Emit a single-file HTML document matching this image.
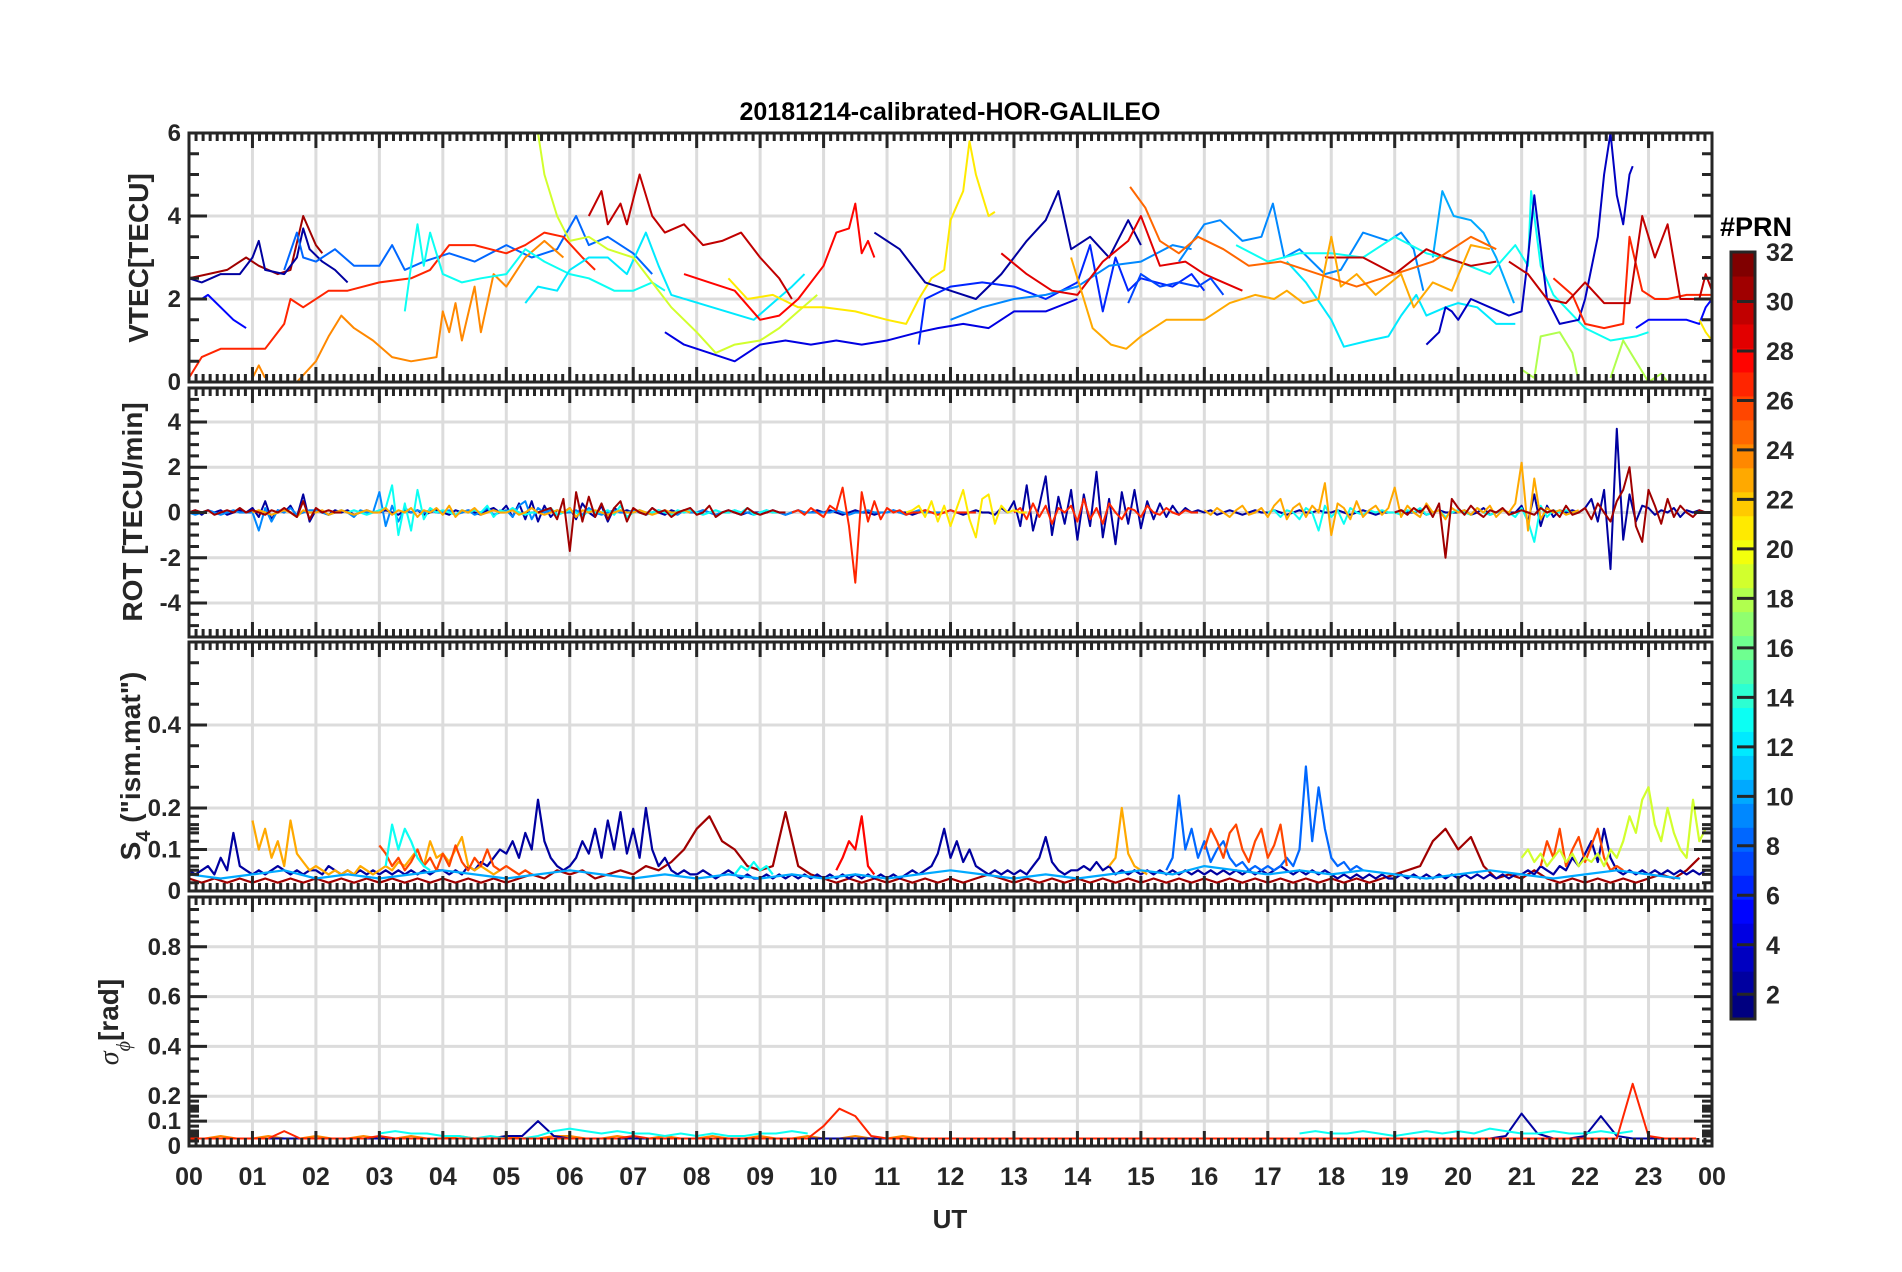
<!DOCTYPE html>
<html><head><meta charset="utf-8"><title>20181214-calibrated-HOR-GALILEO</title>
<style>
html,body{margin:0;padding:0;background:#fff;}
svg{display:block;font-family:"Liberation Sans",Arial,sans-serif;}
</style></head>
<body>
<svg id="chart" width="1902" height="1272" viewBox="0 0 1902 1272" xmlns="http://www.w3.org/2000/svg">
<rect width="1902" height="1272" fill="#fff"/>
<text x="950" y="120" text-anchor="middle" font-size="25" font-weight="bold" fill="#000">20181214-calibrated-HOR-GALILEO</text>
<text x="950" y="1228" text-anchor="middle" font-size="26" font-weight="bold" fill="#262626">UT</text>
<text transform="translate(148,258) rotate(-90)" text-anchor="middle" font-size="28" font-weight="bold" fill="#262626">VTEC[TECU]</text>
<text transform="translate(142,512) rotate(-90)" text-anchor="middle" font-size="28" font-weight="bold" fill="#262626">ROT [TECU/min]</text>
<text transform="translate(140,766) rotate(-90)" text-anchor="middle" font-size="28" font-weight="bold" fill="#262626">S<tspan font-size="20" dy="10">4</tspan><tspan dy="-10"> ("ism.mat")</tspan></text>
<text transform="translate(118,1022) rotate(-90)" text-anchor="middle" font-size="28" font-weight="bold" fill="#262626"><tspan font-style="italic" font-weight="normal" font-family="Liberation Serif, serif">σ</tspan><tspan font-size="20" dy="12" font-style="italic" font-weight="normal" font-family="Liberation Serif, serif">ϕ</tspan><tspan dy="-12">[rad]</tspan></text>
<text x="1720" y="236" font-size="27" font-weight="bold" fill="#000">#PRN</text>
<g id="layer"></g>
</svg>
<script>
// ---------- layout ----------
const L=189, R=1712;
const panels=[
 {top:133,bot:382,min:0,max:6},
 {top:388,bot:637,min:-5.5,max:5.5},
 {top:642,bot:891,min:0,max:0.6},
 {top:897,bot:1146,min:0,max:1}
];
const hourTicks=[0,1,2,3,4,5,6,7,8,9,10,11,12,13,14,15,16,17,18,19,20,21,22,23,24];
const hourLabels=["00","01","02","03","04","05","06","07","08","09","10","11","12","13","14","15","16","17","18","19","20","21","22","23","00"];
const vtecTicks=[0,2,4,6];
const rotTicks=[-4,-2,0,2,4];
const s4Ticks=[0,0.1,0.2,0.4];
const s4TickLabels=["0","0.1","0.2","0.4"];
const sigTicks=[0,0.1,0.2,0.4,0.6,0.8];
const sigTickLabels=["0","0.1","0.2","0.4","0.6","0.8"];
const cbTicks=[2,4,6,8,10,12,14,16,18,20,22,24,26,28,30,32];

// ---------- VTEC data (hours, TECU) ----------
const vtecPrn=[31,2,5,8,27,24,24,13,12,19,21,30,28,4,2,6,9,29,7,9,10,12,13,3,5,27,30,18,18,21,30,23,25];
const vtecT=[
[0,0.3,0.6,0.9,1.1,1.4,1.6,1.8,2.0,2.1],
[0,0.2,0.5,0.8,1.0,1.1,1.2,1.5,1.7,1.8,1.9,2.1,2.3,2.5],
[0,0.2,0.3,0.5,0.7,0.9],
[1.5,1.7,1.8,2.0,2.3,2.6,3.0,3.2,3.4,3.7,4.1,4.5,5.0,5.4,5.8,6.1,6.3,6.6,7.0,7.3],
[0,0.2,0.5,1.0,1.2,1.5,1.6,1.8,2.2,2.5,3.0,3.5,3.8,4.1,4.5,5.0,5.3,5.6,5.9,6.2,6.4],
[1.0,1.1,1.2],
[1.7,2.0,2.2,2.4,2.6,2.9,3.2,3.5,3.9,4.0,4.1,4.2,4.3,4.5,4.6,4.8,5.0,5.3,5.6,5.9],
[3.4,3.5,3.6,3.7,3.8,4.0,4.3,4.6,5.0,5.3,5.6,6.0,6.3,6.7,7.0,7.3,7.5],
[5.3,5.5,5.8,6.0,6.3,6.6,6.9,7.2,7.4,7.6,8.9,9.2,9.5,9.7],
[5.5,5.6,5.8,6.0,6.3,6.6,7.0,7.3,7.6,8.0,8.3,8.6,9.0,9.3,9.6,9.9],
[8.5,8.8,9.2,9.6,10.0,10.5,11.0,11.3,11.5,11.7,11.9,12.0,12.2,12.3,12.4,12.5,12.6,12.7],
[6.3,6.5,6.6,6.8,6.9,7.0,7.1,7.3,7.5,7.8,8.1,8.4,8.7,9.0,9.3,9.5],
[7.8,8.2,8.6,9.0,9.3,9.6,10.0,10.2,10.4,10.5,10.6,10.7,10.8],
[7.5,7.8,8.2,8.6,9.0,9.4,9.8,10.2,10.6,11.0,11.5,11.8,12.2,12.6,13.0,13.5,14.0],
[10.8,11.2,11.6,12.0,12.4,12.8,13.2,13.5,13.7,13.9,14.2,14.5,14.8,15.0],
[11.5,11.6,12.0,12.5,13.0,13.5,14.0,14.2,14.4,14.6,14.8,15.0,15.5,15.8,16.0],
[12.0,12.5,13.0,13.5,14.0,14.5,15.0,15.5,15.8],
[12.8,13.2,13.6,14.0,14.4,14.8,15.0,15.3,15.7,16.0,16.3,16.6],
[14.8,15.0,15.3,15.6,15.9,16.1,16.3],
[15.6,16.0,16.25,16.6,16.9,17.08,17.26,17.5,17.9,18.15,18.5,18.9,19.1,19.3,19.45],
[19.6,19.75,19.93,20.2,20.4,20.6,20.88],
[17.3,17.6,18.0,18.2,18.6,18.9,19.1,19.34,19.5,19.8,20.0,20.3,20.6,20.9],
[16.5,17.0,17.5,18.0,18.5,19.0,19.5,20.0,20.5,20.9,21.1,21.15,21.3,21.5,22.0,22.4,22.8,23.0],
[19.5,19.7,19.8,19.9,20.0,20.2,20.5,20.8,21.0,21.1,21.2,21.4,21.6,21.9,22.0,22.2,22.3,22.4,22.5,22.6,22.7,22.75],
[22.8,23.0,23.3,23.6,23.8,23.9,24.0],
[21.5,21.8,22.0,22.3,22.6,22.7,22.9,23.1,23.3,23.6,24.0],
[20.8,21.1,21.4,21.7,22.0,22.3,22.7,22.9,23.1,23.3,23.5,23.8,23.9,24.0],
[21.0,21.2,21.3,21.6,21.8,21.9],
[22.4,22.6,22.8,23.0,23.2,23.3],
[23.8,23.9,24.0],
[17.9,18.5,19.0,19.5,19.8,20.2,20.6],
[13.9,14.24,14.53,14.77,15.0,15.4,16.0,16.4,16.8,17.1,17.3,17.56,17.8,18.0,18.15,18.4,18.7,19.1,19.3,19.6,19.9,20.2,20.5],
[14.83,15.07,15.3,15.6,15.9,16.3,16.7,17.2,17.8,18.4,19.0,19.6,20.2,20.6]
];
const vtecV=[
[2.5,2.6,2.7,3.0,2.8,2.6,2.7,4.0,3.3,3.1],
[2.5,2.4,2.6,2.6,3.0,3.4,2.7,2.6,3.0,3.7,3.2,2.9,2.7,2.4],
[2.0,2.0,2.1,1.8,1.5,1.3],
[2.7,3.6,3.0,2.9,3.2,2.8,2.8,3.3,2.7,2.9,3.1,2.9,3.3,3.0,3.2,4.0,3.3,3.5,3.1,2.6],
[0.1,0.6,0.8,0.8,0.8,1.4,2.0,1.8,2.2,2.2,2.4,2.5,2.7,3.3,3.3,3.1,3.3,3.6,3.5,3.0,2.7],
[0.1,0.4,0.1],
[0,0.5,1.1,1.6,1.3,1.0,0.6,0.5,0.6,1.7,1.2,1.9,1.0,2.3,1.2,2.6,2.3,3.0,3.4,3.0],
[1.7,2.8,3.8,2.8,3.6,2.6,2.4,2.5,2.6,3.2,2.9,2.6,2.5,2.2,2.2,2.4,2.2],
[1.9,2.3,2.2,2.7,3.0,3.0,2.6,3.6,2.8,2.1,1.5,1.9,2.3,2.6],
[6.0,5.0,4.0,3.4,3.5,3.2,3.0,2.4,1.8,1.2,0.7,0.9,1.0,1.3,1.7,2.1],
[2.5,2.0,2.1,1.8,1.8,1.7,1.5,1.4,2.0,2.5,2.7,3.9,4.6,5.8,5.0,4.5,4.0,4.1],
[4.0,4.6,3.8,4.3,3.8,4.4,5.0,4.0,3.6,3.8,3.3,3.4,3.6,3.0,2.5,2.0],
[2.6,2.4,2.2,1.5,1.6,2.0,2.8,3.6,3.7,4.3,3.1,3.4,3.0],
[1.2,0.9,0.7,0.5,0.9,1.0,0.9,1.0,0.9,1.0,1.2,1.3,1.4,1.3,1.7,1.7,2.0],
[3.6,3.2,2.4,2.2,2.0,2.6,3.4,3.9,4.6,3.2,3.5,3.0,3.9,3.3],
[0.9,2.0,2.3,2.4,2.3,2.0,2.4,3.3,1.7,3.0,2.2,2.5,2.3,2.6,2.2],
[1.5,1.8,2.0,2.1,2.3,2.8,2.9,3.3,3.2],
[3.1,2.6,2.2,2.1,2.9,3.4,4.0,2.8,2.9,2.6,2.4,2.2],
[1.9,2.6,2.3,2.4,2.3,2.5,2.1],
[2.9,3.8,3.9,3.4,3.5,4.3,3.0,3.2,2.6,2.7,3.6,3.4,3.6,3.2,2.2],
[3.0,4.6,4.0,3.9,3.6,3.0,1.9],
[2.9,2.4,1.5,0.85,1.0,1.1,1.6,2.1,1.6,1.8,1.9,1.8,1.4,1.4],
[3.3,2.9,3.1,3.1,3.0,3.5,3.1,2.9,2.6,3.3,2.8,4.6,2.8,2.1,1.3,1.0,1.1,1.2],
[0.9,1.2,1.8,1.7,1.5,2.0,1.8,1.6,1.7,3.0,4.5,2.0,1.4,1.5,2.0,3.5,5.0,6.0,4.5,3.8,5.0,5.2],
[1.3,1.5,1.5,1.5,1.4,1.8,2.0],
[2.5,2.1,1.4,1.3,1.4,3.5,2.2,2.0,2.0,2.1,2.1],
[2.9,2.6,2.0,1.9,2.4,1.9,1.9,4.0,3.0,3.8,2.0,2.0,2.6,2.2],
[0.3,0.1,1.1,1.2,0.7,0.0],
[0.1,1.0,0.5,0.0,0.2,0.0],
[1.5,1.2,1.0],
[3.0,3.0,2.6,3.2,3.0,2.8,2.9],
[3.0,1.3,0.9,0.8,1.1,1.5,1.5,1.9,2.1,2.0,2.2,1.9,2.0,3.5,2.3,2.6,2.1,2.6,1.8,2.4,2.2,3.3,3.2],
[4.7,4.2,3.4,3.1,3.5,3.2,2.8,2.9,2.6,2.3,2.6,2.9,3.5,3.2]
];

// ---------- ROT data (start hour, dt=0.1h, TECU/min) ----------
const rotPrn=[2,9,13,13,23,23,27,27,31,31,31,21];
const rotStart=[0,0,2.5,17,1,16,9.5,13,0,5.5,19,11.3];
const rotVals=[
[0,0.1,-0.1,0.1,0,0.1,-0.1,0,0.1,0, 0.2,-0.2,0.5,-0.3,0.1,0,0.3,-0.2,0.8,-0.4, 0.1,0,-0.1,0.1,0,0.1,-0.1,0,0.1,0, 0,0.1,0,-0.1,0.1,0,0.1,-0.1,0,0.1, 0,-0.1,0.1,0,0.1,0,-0.1,0.1,0.2,0, 0.3,-0.2,0.4,-0.3,0.5,-0.4,0.3,-0.2,0.1,0, 0.2,-0.3,0.4,0,-0.2,0.3,-0.4,0.2,0,0.1, 0,0.1,-0.1,0.2,0,-0.1,0.1,0,0.1,0, 0,0.1,0,-0.1,0,0.1,0,-0.1,0,0, 0,0,0.1,0,-0.1,0,0.1,0,0,0.1, 0,0.1,0,-0.1,0,0.1,0,0,-0.1,0, 0,0.1,0,0,-0.1,0,0.1,0,0,0, 0.1,0,-0.1,0,0.1,0,0,-0.1,0.2,0, 0.5,-0.6,1.2,-0.8,0.3,1.6,-1.0,0.7,-0.5,1.0, -1.2,0.8,-0.6,1.8,-1.1,0.6,-1.4,0.9,-0.5,1.0, -0.7,0.5,-0.3,0.4,-0.2,0.3,-0.1,0.2,0,0.1, 0,0.1,-0.1,0,0.1,0,-0.1,0,0.1,0, 0,0.1,0,-0.1,0,0.1,0,0,0.1,0, 0,0.1,0,-0.1,0,0.1,0,-0.1,0,0, 0,0.1,0,0,0.1,-0.1,0,0.1,0,0, 0,0.1,-0.1,0,0.2,-0.1,0,0.1,0,0, 0.3,-0.4,0.8,-0.6,0.3,-0.2,0.1,0,0.1,0, 0.2,0.6,-0.4,1.0,-2.5,3.7,-1.2,0.8,-0.4,0.3, 0.2,-0.1,0.1,0,0.2,-0.2,0.1,0,0.1,0],
[0,-0.1,0,0.1,0,-0.1,0,0.1,0,0, 0,-0.8,0.2,-0.4,0.1,0,0.2,-0.1,0,0.1, 0.1,0,-0.1,0,0.1,0,-0.2,0.1,0,0, 0.9,-0.6,0.3,-0.4,0.2,0,0.1,0,0.1,0, 0,0.1,-0.1,0,0.1,-0.1,0,0.2,-0.1,0, 0.1,-0.2,0.3,0.5,-0.3,0.2,0,0.1,-0.1,0, 0,0.1,-0.1,0.2,0,-0.1,0,0.1,0,0, 0.1,0,-0.1,0,0.1,0,0,-0.1,0.1,0, 0,0.1,0,-0.1,0,0,0.1,0,0,-0.1, 0,0.1,0,0,-0.1,0,0.1,0,0,0, 0,0,0.1,0,-0.1,0,0,0.1,0,0, 0,0.1,0,-0.1,0,0.1,0,0,0,0],
[0,0.1,0,-0.1,0,0.1,0.2,1.2,-1.0,0.4, -0.8,1.0,-0.3,0.2,0,0.1,0,-0.1,0.1,0, 0.1,0,0.3,-0.2,0.1,0,0.2,0,-0.1,0, 0,0.1,0.2,-0.1,0,0.1,0,-0.2,0.1,0, 0,0.1,-0.1,0.3,-0.2,0,0.1,0,0,0.1, 0,-0.1,0.1,0,0.1,0,-0.1,0,0.1,0, 0,0.1,0,0.2,-0.1,0,0.1,0,0,0],
[0,0.1,-0.2,0.1,0,-0.3,0.2,0,-0.8,0.3, -0.2,0.1,-0.5,0.2,0,-0.1,0.1,0,0.1,0, 0,-0.1,0.1,0,0.2,-0.1,0,0.1,-0.2,0, 0.1,0,-0.1,0.2,0,-0.1,0,0.1,0,-0.2, 0.2,-0.4,-1.3,0.3,-0.2,0.1,0,0.1,0,0],
[0,0.1,0,-0.1,0,0.1,0,-0.2,0.1,0, 0,0.1,-0.1,0,0.1,0,-0.1,0,0.1,0, 0,0.2,-0.1,0.1,0,0.2,-0.2,0.1,0,0.2, -0.1,0.3,-0.2,0.1,0,0.2,-0.1,0,0.1,0, 0,0.1,-0.1,0,0.2,0,-0.1,0,0.1,0, 0.2,-0.2,0.1,0,0.1,0,-0.1,0,0.1,0, 0,0.1,0,-0.1,0,0.1,0,0,0.1,0],
[0.1,-0.1,0.2,0,-0.2,0.1,0.3,-0.1,0,0.2, -0.2,0.3,0.6,-0.3,0.2,0.4,-0.2,0.3,0,1.3, -1.0,0.4,0.2,-0.3,0.5,-0.2,0.1,0.3,-0.1,0.2, 1.1,-0.2,0.3,0,-0.2,0.4,0,0.1,-0.3,0.2, 0,0.1,-0.1,0.2,0,0.3,-0.2,0.1,0,0.4, 2.2,-0.8,1.5,-0.3,0.2,0,0.1,-0.1,0,0.1],
[0,0.1,-0.1,0.2,0,-0.2,0.3,0.1,1.1,-0.6, -3.1,0.9,-0.4,0.5,-0.3,0.2,0,0.1,-0.1,0, 0,0.1,0,-0.1,0,0.1,0,0,0,0],
[0,0.2,-0.3,0.4,-0.2,0.3,-0.5,0.2,0,0.3, -0.4,0.6,-0.3,0.2,-0.5,0.4,0,-0.3,0.2,0.1, -0.2,0.3,0,-0.1,0.2,0,-0.1,0.1,0,0],
[0,0.1,0,0.1,-0.1,0,0.1,0,0.2,0, 0.1,0,-0.1,0.1,0,0.2,0,-0.2,0.5,-0.3, 0.2,0,0.1,0,0],
[0,0.1,0.2,-0.3,0.6,-1.7,0.9,-0.4,0.7,-0.2, 0.4,-0.3,0.2,0.5,-0.4,0.2,0,-0.1,0.2,0, 0.1,-0.2,0,0.1,0.2,-0.1,0,0.3,-0.2,0, 0.1,0,-0.1,0.2,0,-0.1,0,0.1,0,0],
[0,0.1,-0.1,0.2,0,0.3,-0.2,0.4,-2.0,0.6, 0.2,-0.1,0.3,0,-0.2,0.1,0,0.2,-0.1,0, 0.1,0,-0.1,0.2,0,0.1,-0.2,0.3,-0.1,0, 0.2,-0.3,0.4,0,-0.4,0.5,1.0,2.0,-0.6,-1.3, 1.0,0.3,-0.5,0.6,-0.2,0.3,0,-0.2,0.1,0],
[0,0.1,0.3,-0.2,0.5,-0.4,0.3,-0.6,0.2,1.0, -0.3,-1.1,0.6,0.8,-0.5,0.3,0,0.1,0,0]
];

// ---------- S4 data (start hour, dt hours, values) ----------
const s4Prn=[31,2,8,23,23,26,26,26,28,19,13,13,10];
const s4Start=[0,0,15.4,1.0,14.5,3.0,16.0,21.3,10.2,21.0,3.1,8.6,0];
const s4Dt=[0.2,0.1,0.1,0.1,0.1,0.1,0.1,0.1,0.1,0.1,0.1,0.1,0.5];
const s4Vals=[
[0.03,0.02,0.03,0.02,0.03,0.02,0.03,0.02,0.03,0.02, 0.03,0.02,0.03,0.02,0.03,0.02,0.03,0.02,0.03,0.02, 0.03,0.02,0.03,0.02,0.03,0.02,0.03,0.04,0.03,0.05, 0.04,0.05,0.03,0.04,0.05,0.04,0.06,0.05,0.07,0.10, 0.15,0.18,0.12,0.10,0.06,0.05,0.06,0.19,0.06,0.04, 0.03,0.02,0.03,0.02,0.03,0.02,0.03,0.02,0.03,0.02, 0.03,0.02,0.03,0.04,0.03,0.02,0.03,0.02,0.03,0.02, 0.03,0.02,0.03,0.02,0.03,0.02,0.03,0.02,0.03,0.02, 0.03,0.02,0.03,0.02,0.03,0.02,0.03,0.02,0.03,0.02, 0.03,0.02,0.03,0.02,0.03,0.04,0.05,0.06,0.12,0.15, 0.10,0.13,0.06,0.03,0.04,0.03,0.05,0.03,0.02,0.03, 0.02,0.03,0.02,0.03,0.02,0.03,0.04,0.03,0.05,0.08],
[0.05,0.04,0.05,0.06,0.04,0.08,0.05,0.14,0.06,0.05, 0.04,0.05,0.04,0.05,0.06,0.05,0.04,0.05,0.04,0.05, 0.05,0.04,0.06,0.05,0.04,0.05,0.04,0.05,0.04,0.05, 0.04,0.05,0.04,0.05,0.04,0.05,0.04,0.05,0.04,0.05, 0.05,0.04,0.05,0.04,0.06,0.05,0.07,0.06,0.08,0.10, 0.09,0.12,0.08,0.14,0.10,0.22,0.12,0.08,0.06,0.05, 0.06,0.08,0.12,0.09,0.15,0.08,0.17,0.10,0.19,0.09, 0.15,0.08,0.20,0.10,0.06,0.08,0.05,0.04,0.05,0.04, 0.04,0.05,0.04,0.03,0.04,0.05,0.04,0.03,0.04,0.03, 0.03,0.04,0.03,0.04,0.03,0.04,0.03,0.04,0.03,0.04, 0.03,0.04,0.03,0.04,0.03,0.04,0.03,0.04,0.03,0.04, 0.03,0.04,0.03,0.04,0.05,0.04,0.05,0.06,0.09,0.15, 0.08,0.12,0.07,0.10,0.06,0.05,0.04,0.05,0.04,0.05, 0.04,0.05,0.04,0.06,0.08,0.13,0.07,0.05,0.04,0.05, 0.05,0.06,0.05,0.07,0.05,0.06,0.04,0.05,0.04,0.05, 0.04,0.05,0.04,0.05,0.04,0.05,0.04,0.05,0.04,0.05, 0.04,0.05,0.04,0.05,0.04,0.05,0.04,0.05,0.04,0.05, 0.04,0.05,0.06,0.05,0.04,0.05,0.04,0.05,0.04,0.05, 0.04,0.03,0.04,0.03,0.04,0.03,0.04,0.03,0.04,0.03, 0.03,0.04,0.03,0.04,0.03,0.04,0.03,0.04,0.03,0.04, 0.03,0.04,0.03,0.04,0.03,0.04,0.03,0.04,0.03,0.04, 0.04,0.05,0.04,0.06,0.05,0.04,0.06,0.05,0.08,0.06, 0.09,0.12,0.07,0.15,0.08,0.05,0.04,0.05,0.04,0.05, 0.04,0.05,0.04,0.05,0.04,0.05,0.04,0.05,0.04,0.05],
[0.05,0.08,0.23,0.10,0.15,0.08,0.12,0.07,0.10,0.12, 0.08,0.06,0.07,0.05,0.06,0.05,0.06,0.05,0.06,0.08, 0.06,0.10,0.30,0.12,0.25,0.15,0.08,0.06,0.07,0.05,0.06,0.05],
[0.17,0.10,0.15,0.08,0.12,0.06,0.17,0.09,0.07,0.05, 0.06,0.05,0.04,0.05,0.04,0.05,0.04,0.06,0.05,0.04, 0.05,0.06,0.05,0.07,0.06,0.08,0.10,0.06,0.12,0.08, 0.09,0.07,0.10,0.13,0.06,0.05,0.06,0.05,0.04,0.05],
[0.06,0.08,0.20,0.09,0.06,0.05,0.04],
[0.11,0.09,0.06,0.08,0.05,0.07,0.10,0.06,0.08,0.05, 0.09,0.06,0.11,0.07,0.05,0.08,0.06,0.10,0.06,0.05, 0.06,0.05,0.04,0.05,0.04],
[0.10,0.15,0.12,0.08,0.14,0.16,0.10,0.07,0.12,0.15,0.08,0.11,0.16,0.06],
[0.06,0.12,0.08,0.15,0.06,0.10,0.13,0.07,0.11,0.15,0.08,0.05,0.06,0.05],
[0.05,0.08,0.12,0.10,0.18,0.06,0.04],
[0.08,0.10,0.07,0.09,0.06,0.08,0.10,0.07,0.09,0.06, 0.08,0.07,0.09,0.06,0.10,0.08,0.12,0.18,0.14,0.22, 0.25,0.16,0.12,0.20,0.14,0.10,0.08,0.22,0.12,0.15],
[0.06,0.16,0.10,0.15,0.12,0.08,0.06,0.05],
[0.04,0.06,0.05,0.07,0.05,0.06,0.04],
[0.04,0.03,0.04,0.05,0.03,0.04,0.03,0.04,0.05,0.04, 0.03,0.04,0.05,0.04,0.03,0.04,0.03,0.04,0.03,0.04, 0.03,0.04,0.03,0.04,0.05,0.04,0.03,0.04,0.03,0.04, 0.05,0.04,0.06,0.05,0.04,0.05,0.04,0.05,0.04,0.03, 0.04,0.05,0.04,0.03,0.04,0.05,0.04,0.03]
];

// ---------- sigma-phi data (start hour, dt=0.25h, rad) ----------
const sigPrn=[24,2,13,13,27];
const sigStart=[0,0,3.0,17.5,0];
const sigVals=[
[0.03,0.03,0.04,0.03,0.03,0.04,0.03,0.03,0.04,0.03,0.03,0.04,0.03,0.03,0.04,0.03,0.03,0.04,0.03,0.03,0.04,0.03,0.03,0.04,0.04,0.03,0.03,0.04,0.03,0.03,0.04,0.03,0.03,0.04,0.03,0.03,0.04,0.03,0.03,0.04,0.03,0.03,0.04,0.03,0.03,0.04,0.03,0.03],
[0.03,0.03,0.03,0.03,0.03,0.03,0.03,0.03,0.03,0.03,0.03,0.03,0.03,0.03,0.03,0.03,0.03,0.03,0.03,0.03,0.04,0.04,0.10,0.04,0.03,0.03,0.03,0.03,0.03,0.03,0.03,0.03,0.03,0.03,0.03,0.03,0.03,0.03,0.03,0.03,0.03,0.03,0.03,0.03,0.03,0.03,0.03,0.03,0.03,0.03,0.03,0.03,0.03,0.03,0.03,0.03,0.03,0.03,0.03,0.03,0.03,0.03,0.03,0.03,0.03,0.03,0.03,0.03,0.03,0.03,0.03,0.03,0.03,0.03,0.03,0.03,0.03,0.03,0.03,0.03,0.03,0.03,0.03,0.04,0.13,0.05,0.03,0.03,0.04,0.12,0.04,0.03,0.03,0.03,0.03,0.03],
[0.05,0.06,0.05,0.05,0.04,0.04,0.03,0.04,0.03,0.03,0.04,0.06,0.07,0.06,0.05,0.06,0.05,0.05,0.04,0.05,0.04,0.05,0.04,0.04,0.05,0.05,0.06,0.05],
[0.05,0.06,0.05,0.05,0.06,0.05,0.04,0.05,0.06,0.05,0.06,0.05,0.07,0.06,0.05,0.05,0.06,0.05,0.05,0.06,0.05,0.06],
[0.03,0.03,0.03,0.03,0.03,0.03,0.06,0.03,0.03,0.03,0.03,0.03,0.04,0.03,0.03,0.03,0.03,0.03,0.03,0.03,0.03,0.03,0.03,0.03,0.03,0.03,0.03,0.03,0.04,0.03,0.03,0.03,0.03,0.03,0.03,0.03,0.03,0.03,0.03,0.03,0.08,0.15,0.12,0.04,0.03,0.03,0.03,0.03,0.03,0.03,0.03,0.03,0.03,0.03,0.03,0.03,0.03,0.03,0.03,0.03,0.03,0.03,0.03,0.03,0.03,0.03,0.03,0.03,0.03,0.03,0.03,0.03,0.03,0.03,0.03,0.03,0.03,0.03,0.03,0.03,0.03,0.03,0.03,0.03,0.03,0.03,0.03,0.03,0.03,0.03,0.03,0.25,0.04,0.03,0.03,0.03]
];

// ---------- helpers ----------
const NS="http://www.w3.org/2000/svg";
const layer=document.getElementById('layer');
function mk(tag,attrs,parent){const e=document.createElementNS(NS,tag);for(const k in attrs)e.setAttribute(k,attrs[k]);(parent||layer).appendChild(e);return e;}
function xs(h){return L+h*(R-L)/24;}
function ys(p,v){return p.bot-(v-p.min)/(p.max-p.min)*(p.bot-p.top);}
function cl(x){return Math.max(0,Math.min(1,x));}
function jet(prn){const v=(prn-1)/31;const r=cl(1.5-Math.abs(4*v-3)),g=cl(1.5-Math.abs(4*v-2)),b=cl(1.5-Math.abs(4*v-1));return 'rgb('+Math.round(r*255)+','+Math.round(g*255)+','+Math.round(b*255)+')';}
const AX='#262626';
const panelNames=['vtec','rot','s4','sigma-phi'];
const yMajor=[vtecTicks,rotTicks,s4Ticks,sigTicks];
const yLabels=[vtecTicks.map(String),rotTicks.map(String),s4TickLabels,sigTickLabels];
function minorList(i){
  const out=[];
  if(i===0){for(let v=0;v<=6.001;v+=0.5)out.push(v);}
  if(i===1){for(let v=-5.5;v<=5.501;v+=0.5)out.push(v);}
  if(i===2){for(let v=0;v<=0.6001;v+=0.05)out.push(v);for(let v=0;v<=0.2;v+=0.02)out.push(v);}
  if(i===3){for(let v=0;v<=1.0001;v+=0.05)out.push(v);for(let v=0;v<=0.2;v+=0.02)out.push(v);}
  return out;
}

// ---------- panels: grid ----------
panels.forEach((p,i)=>{
  const g=mk('g',{});
  
  
  hourTicks.forEach(h=>{if(h>0&&h<24)mk('line',{x1:xs(h),x2:xs(h),y1:p.top,y2:p.bot,stroke:'#dcdcdc','stroke-width':3},g);});
  yMajor[i].forEach(v=>{if(v>p.min&&v<p.max)mk('line',{x1:L,x2:R,y1:ys(p,v),y2:ys(p,v),stroke:'#dcdcdc','stroke-width':3},g);});
  mk('clipPath',{id:'clip'+i}).appendChild(Object.assign(document.createElementNS(NS,'rect'),{}));
  const cp=document.getElementById('clip'+i).firstChild;
  cp.setAttribute('x',L);cp.setAttribute('y',p.top);cp.setAttribute('width',R-L);cp.setAttribute('height',p.bot-p.top);
});

// ---------- series ----------
function drawPts(i,pts,prn,name,w){
  const p=panels[i];
  const d=pts.map((q,k)=>(k?'L':'M')+xs(q[0]).toFixed(1)+','+ys(p,q[1]).toFixed(1)).join('');
  const path=mk('path',{d:d,fill:'none',stroke:jet(prn),'stroke-width':w,'stroke-linejoin':'round','clip-path':'url(#clip'+i+')'});
  
  
}
vtecT.forEach((ts,k)=>{drawPts(0,ts.map((t,j)=>[t,vtecV[k][j]]),vtecPrn[k],'vtec-series-prn'+vtecPrn[k],2);});
rotVals.forEach((vals,k)=>{drawPts(1,vals.map((v,j)=>[rotStart[k]+j*0.1,v]),rotPrn[k],'rot-series-prn'+rotPrn[k],2);});
s4Vals.forEach((vals,k)=>{drawPts(2,vals.map((v,j)=>[s4Start[k]+j*s4Dt[k],v]),s4Prn[k],'s4-series-prn'+s4Prn[k],2.2);});
sigVals.forEach((vals,k)=>{drawPts(3,vals.map((v,j)=>[sigStart[k]+j*0.25,v]),sigPrn[k],'sigma-series-prn'+sigPrn[k],2);});

// ---------- frames, ticks, labels ----------
panels.forEach((p,i)=>{
  const g=mk('g',{});
  
  
  let d='';
  // hour ticks top & bottom
  for(let h=0;h<=24;h++){const x=xs(h);d+='M'+x+','+p.top+'v15M'+x+','+p.bot+'v-15';}
  for(let h=0;h<24;h++)for(let m=1;m<9;m++){const x=xs(h+m/9);d+='M'+x+','+p.top+'v8M'+x+','+p.bot+'v-8';}
  minorList(i).forEach(v=>{const y=ys(p,v);d+='M'+L+','+y+'h10M'+R+','+y+'h-10';});
  yMajor[i].forEach(v=>{const y=ys(p,v);d+='M'+L+','+y+'h18M'+R+','+y+'h-18';});
  mk('path',{d:d,stroke:AX,'stroke-width':3,fill:'none'},g);
  mk('rect',{x:L,y:p.top,width:R-L,height:p.bot-p.top,fill:'none',stroke:AX,'stroke-width':3},g);
  yMajor[i].forEach((v,k)=>{
    const t=mk('text',{x:L-8,y:ys(p,v)+8,'text-anchor':'end','font-size':24,'font-weight':'bold',fill:AX},g);
    t.textContent=yLabels[i][k];
    
    
  });
});
hourTicks.forEach((h,k)=>{
  const t=mk('text',{x:xs(h),y:1185,'text-anchor':'middle','font-size':25,'font-weight':'bold',fill:AX});
  t.textContent=hourLabels[k];
  
  
});

// ---------- colorbar ----------
const cbX=1731,cbW=24,cbTop=252,cbBot=1019,cbMin=1,cbMax=32;
function cy(v){return cbBot-(v-cbMin)/(cbMax-cbMin)*(cbBot-cbTop);}
const cb=mk('g',{});


for(let k=1;k<=32;k++){
  const y0=cbBot-(k-1)/32*(cbBot-cbTop),y1=cbBot-k/32*(cbBot-cbTop);
  mk('rect',{x:cbX,y:y1,width:cbW,height:y0-y1+0.6,fill:jet(k)},cb);
}
mk('rect',{x:cbX,y:cbTop,width:cbW,height:cbBot-cbTop,fill:'none',stroke:AX,'stroke-width':3},cb);
cbTicks.forEach(v=>{
  mk('line',{x1:cbX+6,x2:cbX+cbW,y1:cy(v),y2:cy(v),stroke:AX,'stroke-width':3},cb);
  const t=mk('text',{x:1766,y:cy(v)+9,'font-size':25,'font-weight':'bold',fill:AX},cb);
  t.textContent=String(v);
  
  
});
</script>
</body></html>
